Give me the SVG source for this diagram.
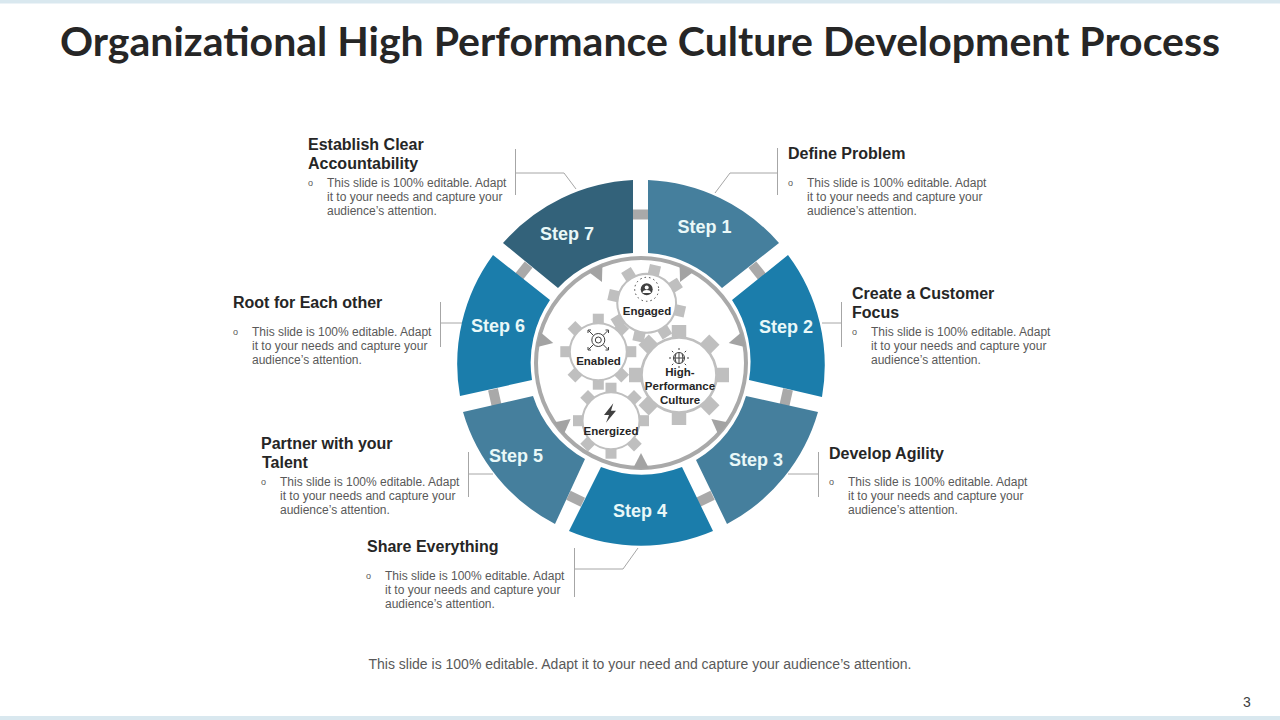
<svg xmlns="http://www.w3.org/2000/svg" xmlns:xlink="http://www.w3.org/1999/xlink" width="1280" height="720" viewBox="0 0 1280 720">
<style>
text{font-family:"Liberation Sans",Arial,sans-serif}
.title{font-family:Lato,"Liberation Sans",sans-serif;font-weight:700;font-size:41px;fill:#262626;text-anchor:middle}
.head{font-weight:700;font-size:16px;fill:#262626}
.body{font-size:12px;fill:#595959}
.bul{font-size:9px;fill:#595959}
.step{font-weight:700;font-size:18px;fill:#e9f8f8;text-anchor:middle}
.gl{font-weight:700;font-size:11.5px;fill:#262626;text-anchor:middle}
.foot{font-size:14px;fill:#595959;text-anchor:middle}
.s1{fill:#457f9d}.s2{fill:#1b7dab}.s7{fill:#33627a}
.lead{fill:none;stroke:#a6a6a6;stroke-width:1}
.tooth{fill:#bfbfbf}
.hub{fill:#fff;stroke:#bfbfbf;stroke-width:2}
.icon{fill:none;stroke:#404040;stroke-width:1}
.iconf{fill:#404040}
</style>
<defs>
<g id="gear">
<g class="tooth">
<rect x="-5.5" y="-38" width="11" height="12"/>
<rect x="-5.5" y="-38" width="11" height="12" transform="rotate(45)"/>
<rect x="-5.5" y="-38" width="11" height="12" transform="rotate(90)"/>
<rect x="-5.5" y="-38" width="11" height="12" transform="rotate(135)"/>
<rect x="-5.5" y="-38" width="11" height="12" transform="rotate(180)"/>
<rect x="-5.5" y="-38" width="11" height="12" transform="rotate(225)"/>
<rect x="-5.5" y="-38" width="11" height="12" transform="rotate(270)"/>
<rect x="-5.5" y="-38" width="11" height="12" transform="rotate(315)"/>
</g>
<circle class="hub" r="28.5"/>
</g>
<rect id="link" x="632.5" y="209.5" width="16" height="10" fill="#a9a9a9"/>
<path id="tri" d="M633 468.5L649 468.5L641 453Z" fill="#a3a3a3"/>
</defs>
<rect width="1280" height="720" fill="#fff"/>
<rect width="1280" height="3.5" fill="#d9e8ef"/>
<rect y="716" width="1280" height="4" fill="#d9e8ef"/>
<text class="title" x="640" y="56">Organizational High Performance Culture Development Process</text>

<g id="connectors">
<path class="lead" d="M715 193L730 173H777.5M777.5 148V195"/>
<path class="lead" d="M822 323H841.5M841.5 302V347"/>
<path class="lead" d="M788 474H818.5M818.5 452V497"/>
<path class="lead" d="M638 548L623 569H574.5M574.5 548V597"/>
<path class="lead" d="M493 474H468.5M468.5 452V497"/>
<path class="lead" d="M462 323H440.5M440.5 302V347"/>
<path class="lead" d="M576 189L564 173H515.5M515.5 149V195"/>
</g>

<g id="links">
<use xlink:href="#link" href="#link"/>
<use xlink:href="#link" href="#link" transform="rotate(51.43 640.5 364)"/>
<use xlink:href="#link" href="#link" transform="rotate(102.86 640.5 364)"/>
<use xlink:href="#link" href="#link" transform="rotate(154.29 640.5 364)"/>
<use xlink:href="#link" href="#link" transform="rotate(205.71 640.5 364)"/>
<use xlink:href="#link" href="#link" transform="rotate(257.14 640.5 364)"/>
<use xlink:href="#link" href="#link" transform="rotate(308.57 640.5 364)"/>
</g>

<g id="step1"><path class="s1" d="M648 180A184 184 0 0 1 779 243L722 288A111 111 0 0 0 648 253Z"/><text class="step" x="704.5" y="233">Step 1</text></g>
<g id="step2"><path class="s2" d="M788 255A184 184 0 0 1 822 397L749 380A111 111 0 0 0 732 300Z"/><text class="step" x="786" y="333">Step 2</text></g>
<g id="step3"><path class="s1" d="M818 412A184 184 0 0 1 727 524L696 460A111 111 0 0 0 746 396Z"/><text class="step" x="756" y="466">Step 3</text></g>
<g id="step4"><path class="s2" d="M713 531A184 184 0 0 1 569 531L601 467A111 111 0 0 0 682 467Z"/><text class="step" x="640" y="517">Step 4</text></g>
<g id="step5"><path class="s1" d="M555 524A184 184 0 0 1 463 412L533 396A111 111 0 0 0 585 459Z"/><text class="step" x="516" y="462">Step 5</text></g>
<g id="step6"><path class="s2" d="M460 396A184 184 0 0 1 493 255L550 300A111 111 0 0 0 532 380Z"/><text class="step" x="498" y="332">Step 6</text></g>
<g id="step7"><path class="s7" d="M503 243A184 184 0 0 1 633 180V253A111 111 0 0 0 558 288Z"/><text class="step" x="567" y="240">Step 7</text></g>

<g id="hub-ring">
<circle cx="641" cy="363" r="105" fill="#fff" stroke="#a9a9a9" stroke-width="4"/>
<use xlink:href="#tri" href="#tri" fill="#7f8a90" style="fill:#7f8a90"/>
<use xlink:href="#tri" href="#tri" transform="rotate(51.43 641 363)"/>
<use xlink:href="#tri" href="#tri" transform="rotate(102.86 641 363)"/>
<use xlink:href="#tri" href="#tri" transform="rotate(154.29 641 363)"/>
<use xlink:href="#tri" href="#tri" transform="rotate(205.71 641 363)"/>
<use xlink:href="#tri" href="#tri" transform="rotate(257.14 641 363)"/>
<use xlink:href="#tri" href="#tri" transform="rotate(308.57 641 363)"/>
</g>

<g id="gear-engaged">
<use xlink:href="#gear" href="#gear" transform="translate(646.7 303.3) rotate(13) scale(1.03)"/>
<circle class="icon" cx="646.7" cy="289.3" r="12" stroke-dasharray="1.5 3" stroke-width="1.5"/>
<circle class="iconf" cx="646.7" cy="289.3" r="6"/>
<circle cx="646.7" cy="287.5" r="2" fill="#fff"/>
<path d="M642.5 293a4.2 3 0 0 1 8.4 0Z" fill="#fff"/>
<text class="gl" x="647" y="315">Engaged</text>
</g>
<g id="gear-enabled">
<use xlink:href="#gear" href="#gear" transform="translate(598.3 351.7)"/>
<circle class="icon" cx="598.3" cy="340" r="6.5" stroke-width="2"/>
<circle class="icon" cx="598.3" cy="340" r="3"/>
<path class="icon" d="M588.5 330.500L593.500 335.500M608 330.500L603 335.500M588.500 349.500L593.500 344.500M608 349.500L603 344.500M588 330H591M588 330V333M608.500 330H605.500M608.500 330V333M588 350H591M588 350V347M608.500 350H605.500M608.500 350V347"/>
<text class="gl" x="598.500" y="365">Enabled</text>
</g>
<g id="gear-high">
<use xlink:href="#gear" href="#gear" transform="translate(679 375) scale(1.316)"/>
<circle class="icon" cx="679" cy="358" r="5.500"/>
<path class="icon" d="M673.500 358H684.500M679 352.500V363.500M676 353.500Q674 358 676 362.500M682 353.500Q684 358 682 362.500"/>
<path class="icon" stroke-dasharray="2 1.500" d="M679 350V346.500M679 366V369.500M671 358H667.500M687 358H690.500M673.300 352.300L670.800 349.800M684.700 352.300L687.200 349.800M673.300 363.700L670.800 366.200M684.700 363.700L687.200 366.200"/>
<text class="gl" x="680" y="376">High-</text>
<text class="gl" x="680" y="390">Performance</text>
<text class="gl" x="680" y="404">Culture</text>
</g>
<g id="gear-energized">
<use xlink:href="#gear" href="#gear" transform="translate(611 420.700)"/>
<path class="iconf" d="M613.300 403.300L604 415H609L606 422.700L616 410.700H611Z"/>
<text class="gl" x="611" y="435">Energized</text>
</g>

<g id="label1"><text class="head" x="788" y="159">Define Problem</text><text class="bul" x="788" y="186">o</text>
<text class="body" x="807" y="187">This slide is 100% editable. Adapt</text><text class="body" x="807" y="201">it to your needs and capture your</text><text class="body" x="807" y="215">audience’s attention.</text></g>
<g id="label2"><text class="head" x="852" y="299">Create a Customer</text><text class="head" x="852" y="318">Focus</text><text class="bul" x="852" y="335">o</text>
<text class="body" x="871" y="336">This slide is 100% editable. Adapt</text><text class="body" x="871" y="350">it to your needs and capture your</text><text class="body" x="871" y="364">audience’s attention.</text></g>
<g id="label3"><text class="head" x="829" y="459">Develop Agility</text><text class="bul" x="829" y="485">o</text>
<text class="body" x="848" y="486">This slide is 100% editable. Adapt</text><text class="body" x="848" y="500">it to your needs and capture your</text><text class="body" x="848" y="514">audience’s attention.</text></g>
<g id="label4"><text class="head" x="367" y="552">Share Everything</text><text class="bul" x="366" y="579">o</text>
<text class="body" x="385" y="580">This slide is 100% editable. Adapt</text><text class="body" x="385" y="594">it to your needs and capture your</text><text class="body" x="385" y="608">audience’s attention.</text></g>
<g id="label5"><text class="head" x="261" y="449">Partner with your</text><text class="head" x="262" y="468">Talent</text><text class="bul" x="261" y="485">o</text>
<text class="body" x="280" y="486">This slide is 100% editable. Adapt</text><text class="body" x="280" y="500">it to your needs and capture your</text><text class="body" x="280" y="514">audience’s attention.</text></g>
<g id="label6"><text class="head" x="233" y="308">Root for Each other</text><text class="bul" x="233" y="335">o</text>
<text class="body" x="252" y="336">This slide is 100% editable. Adapt</text><text class="body" x="252" y="350">it to your needs and capture your</text><text class="body" x="252" y="364">audience’s attention.</text></g>
<g id="label7"><text class="head" x="308" y="150">Establish Clear</text><text class="head" x="308" y="169">Accountability</text><text class="bul" x="308" y="186">o</text>
<text class="body" x="327" y="187">This slide is 100% editable. Adapt</text><text class="body" x="327" y="201">it to your needs and capture your</text><text class="body" x="327" y="215">audience’s attention.</text></g>

<text class="foot" x="640" y="669">This slide is 100% editable. Adapt it to your need and capture your audience’s attention.</text>
<text x="1247" y="707" font-size="14" fill="#404040" text-anchor="middle">3</text>
</svg>
